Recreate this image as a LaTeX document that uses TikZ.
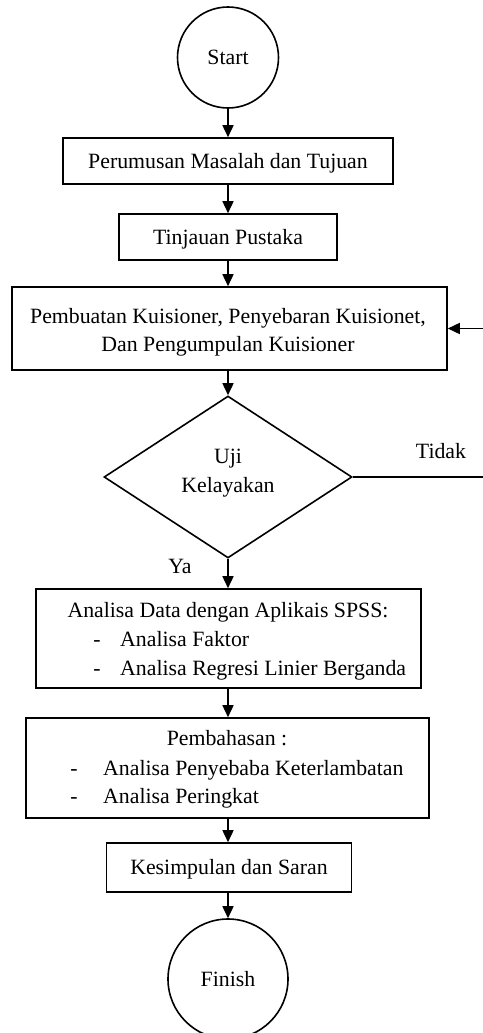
\documentclass[tikz,border=0pt]{standalone}
\usepackage{fontspec}
\setmainfont{Liberation Serif}
\usetikzlibrary{shapes.geometric,arrows.meta}
\begin{document}
\begin{tikzpicture}[x=1pt,y=-1pt,
  every node/.style={font=\fontsize{21.8}{27}\selectfont},
  lw/.style={line width=1.6pt},
  box/.style={draw,lw,rectangle,inner sep=0pt,text height=16pt,text depth=2pt},
  term/.style={draw,lw,circle,inner sep=0pt,text height=16pt,text depth=2pt},
  arr/.style={lw,-{Triangle[length=12pt,width=11pt]}},
  txt/.style={inner sep=0pt,anchor=base},
  txtw/.style={inner sep=0pt,anchor=base west}]
\useasboundingbox (0,0) rectangle (482,1033);
\fill[white] (0,0) rectangle (482,1033);
% nodes
\node[term,minimum size=101pt] (start) at (228,57.5) {Start};
\node[box,minimum width=330pt,minimum height=46pt] (b1) at (228,161) {Perumusan Masalah dan Tujuan};
\node[box,minimum width=218pt,minimum height=46pt] (b2) at (228,237) {Tinjauan Pustaka};
\node[box,minimum width=435pt,minimum height=83pt] (b3) at (229.5,328.5) {};
\node[txt] (b3a) at (228,323) {Pembuatan Kuisioner, Penyebaran Kuisionet,};
\node[txt] (b3b) at (228,351) {Dan Pengumpulan Kuisioner};
\node[draw,lw,diamond,minimum width=248pt,minimum height=162pt,inner sep=0pt] (d) at (228,477) {};
\node[txt] (uji) at (228,463) {Uji};
\node[txt] (kel) at (228,492) {Kelayakan};
\node[txt] (tidak) at (441,458) {Tidak};
\node[txt] (ya) at (180,573) {Ya};
\node[box,minimum width=385pt,minimum height=99pt] (b4) at (228.5,638.5) {};
\node[txt] (b4a) at (228,617) {Analisa Data dengan Aplikais SPSS:};
\node[txt] (b4d1) at (97,646) {-};
\node[txtw] (b4b) at (120,646) {Analisa Faktor};
\node[txt] (b4d2) at (97,675) {-};
\node[txtw] (b4c) at (120,675) {Analisa Regresi Linier Berganda};
\node[box,minimum width=403pt,minimum height=100pt] (b5) at (227.5,768) {};
\node[txt] (b5a) at (227,745) {Pembahasan :};
\node[txt] (b5d1) at (74,775) {-};
\node[txtw] (b5b) at (103,775) {Analisa Penyebaba Keterlambatan};
\node[txt] (b5d2) at (74,803) {-};
\node[txtw] (b5c) at (103,803) {Analisa Peringkat};
\node[box,minimum width=245pt,minimum height=49pt] (b6) at (229,867.5) {Kesimpulan dan Saran};
\node[term,minimum size=120pt] (finish) at (228,979) {Finish};
\coordinate (rx) at (487,0);
% connectors
\draw[arr] (start) -- (b1);
\draw[arr] (b1) -- (b2);
\draw[arr] (b2.south) -- (b3.north -| b2.south);
\draw[arr] (b3.south -| d.north) -- (d.north);
\draw[arr] (d.south) -- (b4.north -| d.south);
\draw[arr] (b4.south -| d.south) -- (b5.north -| d.south);
\draw[arr] (b5.south -| d.south) -- (b6.north -| d.south);
\draw[arr] (b6.south -| finish.north) -- (finish.north);
\draw[arr] (d.east) -- (d.east -| rx) |- (b3.east);
\end{tikzpicture}
\end{document}
